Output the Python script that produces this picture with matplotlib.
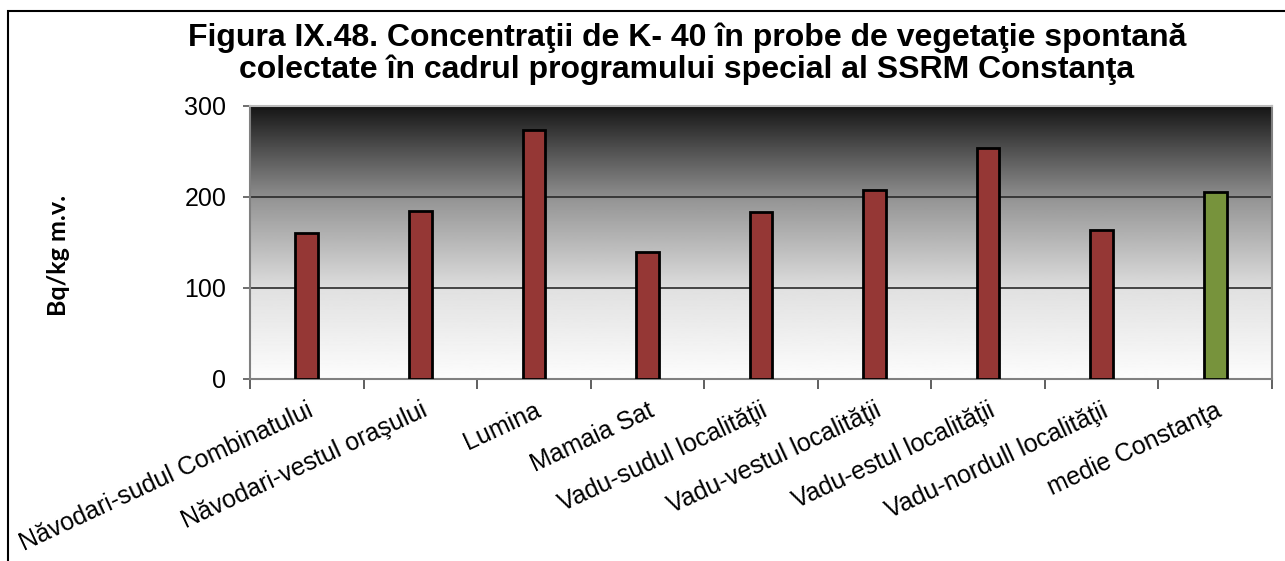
import numpy as np
import matplotlib
matplotlib.use('Agg')
import matplotlib.pyplot as plt
from matplotlib.patches import Rectangle

# K-40 concentrations (Bq/kg m.v.) per sampling site
sites = ["Năvodari-sudul Combinatului", "Năvodari-vestul oraşului", "Lumina",
         "Mamaia Sat", "Vadu-sudul localităţii", "Vadu-vestul localităţii",
         "Vadu-estul localităţii", "Vadu-nordull localităţii", "medie Constanţa"]
k40 = [160, 184, 273, 139, 183, 207, 253, 163, 205]
bar_colors = ["#953735"] * 8 + ["#77933C"]
y_ticks = [0, 100, 200, 300]

plt.rcParams['font.family'] = ['Liberation Sans', 'DejaVu Sans']

fig = plt.figure(figsize=(12.85, 5.61), dpi=100)
ax = fig.add_axes([250 / 1285, 1 - 379 / 561, 1022 / 1285, 273.5 / 561])

# chart frame (only top and left edges fall inside the image)
fig.patches.append(Rectangle((8 / 1285, -0.2), 1.2, 1.2 - 11 / 561,
                             transform=fig.transFigure, fill=False,
                             edgecolor='black', linewidth=1.5, zorder=0))

# dark-to-light vertical gradient in the plot area
stops_y = [0.0, 0.33, 0.34, 0.66, 0.67, 0.85, 1.0]
stops_v = [0.99, 0.88, 0.86, 0.58, 0.55, 0.30, 0.08]
yy = np.linspace(0, 1, 300)
grad = np.interp(yy, stops_y, stops_v)[:, None]
ax.imshow(grad, cmap='gray', vmin=0, vmax=1, origin='lower', aspect='auto',
          extent=(-0.5, 8.5, 0, 300), zorder=0)

x = np.arange(len(sites))
ax.bar(x, k40, width=0.2, color=bar_colors, edgecolor='black', linewidth=2, zorder=3)

ax.set_xlim(-0.5, 8.5)
ax.set_ylim(0, 300)
ax.set_yticks(y_ticks)
ax.set_yticklabels([str(v) for v in y_ticks], fontsize=18)
for v in y_ticks[1:-1]:
    ax.axhline(v, color='#2a2a2a', linewidth=1.2, zorder=1)

ax.set_xticks(x)
ax.set_xticklabels(sites, fontsize=18, rotation=25, ha='right', va='top',
                   rotation_mode='anchor')
ax.set_xticks(np.arange(-0.5, 9, 1), minor=True)
ax.tick_params(axis='x', which='major', length=0, pad=14)
ax.tick_params(axis='x', which='minor', length=7, width=1.2, color='#444444')
ax.tick_params(axis='y', length=5, width=1.2, color='#555555', pad=12)

for side in ['left', 'bottom', 'right']:
    ax.spines[side].set_color('#808080')
    ax.spines[side].set_linewidth(1.5)
ax.spines['top'].set_color('#bbbbbb')
ax.spines['top'].set_linewidth(1.5)

ax.set_ylabel("Bq/kg m.v.", fontsize=18, fontweight='bold', family=['Lato', 'DejaVu Sans'])
ax.yaxis.set_label_coords((70 - 250) / 1022, (379 - 255) / 273.5)

fig.text(687 / 1285, 1 - 54 / 561,
         "Figura IX.48. Concentraţii de K- 40 în probe de vegetaţie spontană\n"
         "colectate în cadrul programului special al SSRM Constanţa",
         ha='center', va='center', fontsize=23, fontweight='bold', linespacing=1.08)

fig.savefig("out.png", dpi=100)
